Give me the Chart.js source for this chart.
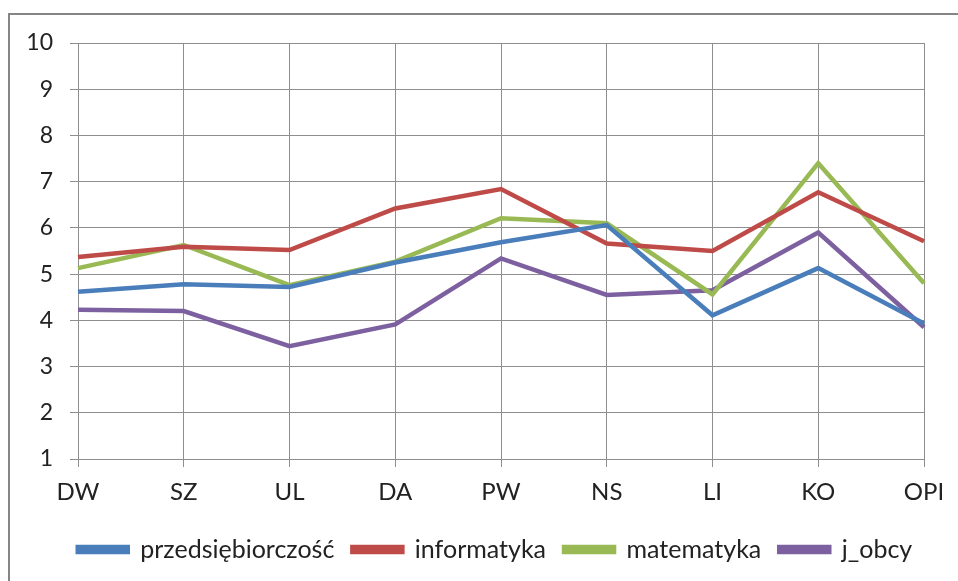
<!DOCTYPE html>
<html>
<head>
<meta charset="utf-8">
<script src="https://cdn.jsdelivr.net/npm/chart.js@4.4.1/dist/chart.umd.min.js"></script>
<style>
  html, body { margin: 0; padding: 0; background: #fff; }
  #wrap { position: relative; width: 958px; height: 581px; overflow: hidden; }
  #frame {
    position: absolute; left: 8px; top: 13px; width: 2000px; height: 2000px;
    border-top: 2px solid #858585; border-left: 2px solid #858585;
    pointer-events: none;
  }
  #chart { position: absolute; left: 0; top: 0; }
</style>
</head>
<body>
<div id="wrap">
  <canvas id="chart" width="958" height="581"></canvas>
  <div id="frame"></div>
</div>
<script>
// Kategorie (osie X)
const categories = ['DW', 'SZ', 'UL', 'DA', 'PW', 'NS', 'LI', 'KO', 'OPI'];

// Serie - wartości
const przedsiebiorczosc = [4.62, 4.78, 4.72, 5.25, 5.69, 6.06, 4.11, 5.13, 3.93];
const informatyka       = [5.37, 5.59, 5.52, 6.42, 6.84, 5.66, 5.50, 6.77, 5.71];
const matematyka        = [5.13, 5.63, 4.76, 5.27, 6.21, 6.10, 4.56, 7.40, 4.80];
const jObcy             = [4.23, 4.20, 3.44, 3.91, 5.34, 4.55, 4.65, 5.90, 3.85];

const yTicks = [1, 2, 3, 4, 5, 6, 7, 8, 9, 10];

const FONT = 'Lato, Calibri, Carlito, sans-serif';
const GRID = '#8e8e8e';

function series(label, data, color) {
    return {
        label: label,
        data: data,
        borderColor: color,
        backgroundColor: color,
        borderWidth: 4.5,
        pointRadius: 0,
        tension: 0,
        fill: false,
        borderJoinStyle: 'miter'
    };
}

// legenda w oryginale jest trochę przesunięta w prawo
const legendShift = {
    id: 'legendShift',
    afterLayout(chart) {
        const l = chart.legend;
        if (!l) return;
        l.left += 33;
        l.right += 33;
    }
};

new Chart(document.getElementById('chart'), {
    type: 'line',
    data: {
        labels: categories,
        datasets: [
            series('przedsiębiorczość', przedsiebiorczosc, '#4a7ebb'),
            series('informatyka', informatyka, '#be4b48'),
            series('matematyka', matematyka, '#98b954'),
            series('j_obcy', jObcy, '#7d60a0')
        ]
    },
    plugins: [legendShift],
    options: {
        responsive: false,
        animation: false,
        layout: { padding: { left: 0, top: 43, right: 34, bottom: 9 } },
        plugins: {
            tooltip: { enabled: false },
            legend: {
                position: 'bottom',
                labels: {
                    font: { family: FONT, size: 25 },
                    color: '#222',
                    boxWidth: 50,
                    boxHeight: 5,
                    padding: 18
                }
            }
        },
        scales: {
            x: {
                offset: false,
                grid: { color: GRID, lineWidth: 1, tickLength: 8, tickColor: GRID },
                border: { color: GRID, width: 1 },
                ticks: { font: { family: FONT, size: 24 }, color: '#222', padding: 11, maxRotation: 0 },
                afterFit: axis => { axis.height = 60; }
            },
            y: {
                min: 1,
                max: 10,
                afterBuildTicks: axis => { axis.ticks = yTicks.map(v => ({ value: v })); },
                grid: { color: GRID, lineWidth: 1, tickLength: 8, tickColor: GRID },
                border: { color: GRID, width: 1 },
                ticks: { font: { family: FONT, size: 23 }, color: '#222', padding: 17 },
                afterFit: axis => { axis.width = 78; }
            }
        }
    }
});
</script>
</body>
</html>
